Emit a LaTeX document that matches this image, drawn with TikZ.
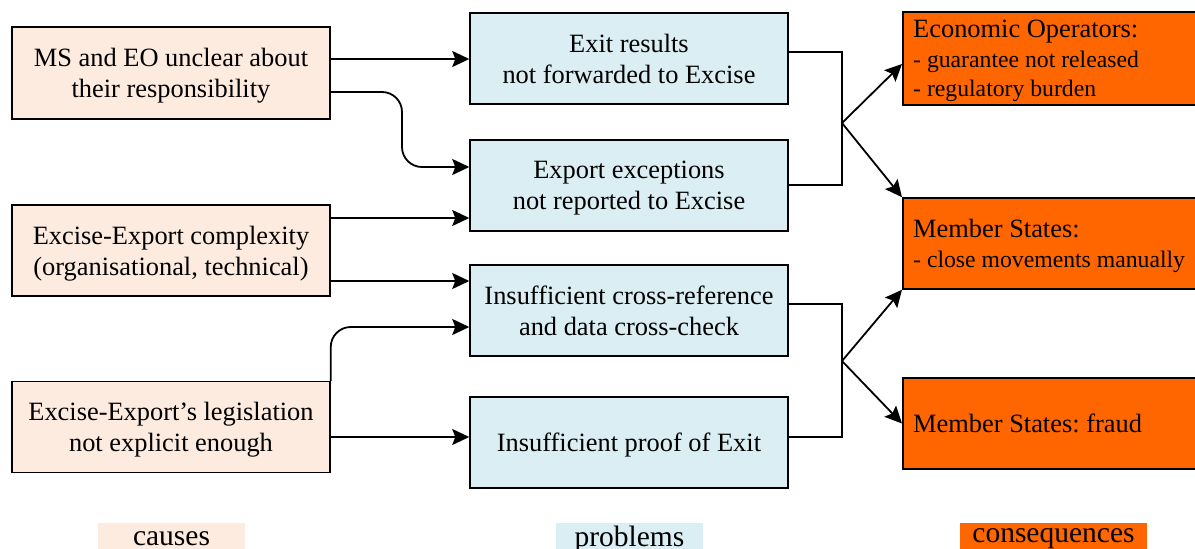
\documentclass[tikz,border=0pt]{standalone}
\usepackage{fontspec}
\setmainfont{Liberation Serif}
\usetikzlibrary{arrows.meta,calc}
\definecolor{causefill}{HTML}{FDEBDF}
\definecolor{probfill}{HTML}{DAEEF3}
\definecolor{consfill}{HTML}{FF6600}
\newcommand{\qsmall}{\fontsize{23.7}{29.5}\selectfont}
\frenchspacing
\begin{document}
\begin{tikzpicture}[x=1pt,y=-1pt,
  txt/.style={font=\fontsize{26.4}{31}\selectfont},
  box/.style={txt, draw=black, line width=1.5pt, minimum width=318pt, minimum height=91pt, align=center, inner sep=0pt, text depth=0pt},
  cause/.style={box, fill=causefill},
  prob/.style={box, fill=probfill},
  cons/.style={draw=black, line width=1.5pt, fill=consfill, minimum width=320pt, minimum height=91pt, inner sep=0pt, anchor=west},
  constext/.style={font=\fontsize{26.4}{29.5}\selectfont, align=left, inner sep=0pt, text depth=0pt, anchor=west},
  conn/.style={line width=1.8pt},
  arr/.style={conn, -{Stealth[length=17pt,width=16pt,inset=3pt]}},
  legend/.style={font=\fontsize{29.5}{32}\selectfont, minimum height=32pt, inner sep=0pt}]
\useasboundingbox (0,0) rectangle (1195,549);
% causes
\node[cause, minimum height=92pt] (c1) at (171,73) {MS and EO unclear about\\their responsibility};
\node[cause] (c2) at (171,250.5) {Excise-Export complexity\\(organisational, technical)};
\node[cause] (c3) at (171,427) {Excise-Export's legislation\\not explicit enough};
% problems
\node[prob] (p1) at (629,58.5) {Exit results\\not forwarded to Excise};
\node[prob] (p2) at (629,185.5) {Export exceptions\\not reported to Excise};
\node[prob] (p3) at (629,310.5) {Insufficient cross-reference\\and data cross-check};
\node[prob] (p4) at (629,442.5) {Insufficient proof of Exit};
% consequences
\node[cons, minimum height=93pt] (q1) at (902,58.5) {};
\node[cons] (q2) at (902,243.5) {};
\node[cons] (q3) at (902,423.5) {};
\node[constext] (q1t) at ([xshift=11pt]q1.west) {Economic Operators:\\\qsmall - guarantee not released\\\qsmall - regulatory burden};
\node[constext] (q2t) at ([xshift=11pt]q2.west) {Member States:\\\qsmall - close movements manually};
\node[constext] (q3t) at ([xshift=11pt]q3.west) {Member States: fraud};
% junctions
\coordinate (j1) at (842,123);
\coordinate (j2) at (842,361);
% cause -> problem
\draw[arr] (c1.east|-0,59) -- (p1.west|-0,59);
\draw[arr, rounded corners=20pt] (c1.east|-0,92) -| (402,167) -- (p2.west|-0,167);
\draw[arr] (c2.east|-0,218) -- (p2.west|-0,218);
\draw[arr] (c2.east|-0,281) -- (p3.west|-0,281);
\draw[arr, rounded corners=20pt] (c3.north east) |- (p3.west|-0,327);
\draw[arr] (c3.east|-0,437) -- (p4.west|-0,437);
% problem -> consequence
\draw[conn] (p1.east|-0,52) -| (j1) |- (p2.east|-0,185);
\draw[conn] (p3.east|-0,304) -| (j2) |- (p4.east|-0,437);
\draw[arr] (j1) -- (q1.west|-0,64);
\draw[arr] (j1) -- (q2.north west);
\draw[arr] (j2) -- (q2.south west);
\draw[arr] (j2) -- (q3.west);
% legend
\fill[causefill] (98,523) rectangle (245,555);
\fill[probfill] (556,523) rectangle (703,555);
\fill[consfill] (960,523) rectangle (1147,555);
\node[legend] (lc) at (171.5,539) {causes};
\node[legend] (lp) at (629.5,539) {problems};
\node[legend] (lq) at (1053.5,539) {consequences};
\end{tikzpicture}
\end{document}
